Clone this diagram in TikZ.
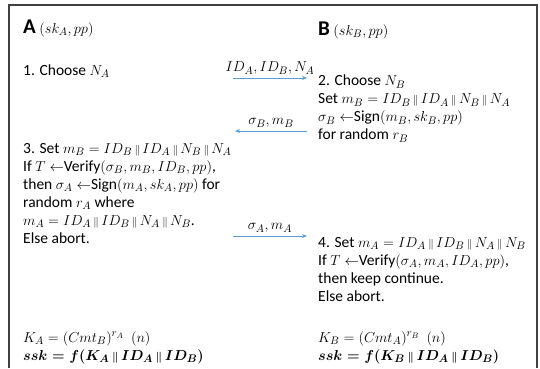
\documentclass[tikz,border=0pt]{standalone}
\usepackage{amsmath}
\usepackage{fontspec}
\setmainfont{Carlito}
\usepackage{tikz}
\usetikzlibrary{arrows.meta}

\newcommand{\cat}{\mkern3mu{\scriptstyle\|}\mkern3mu}

\begin{document}
\begin{tikzpicture}[x=1pt,y=1pt,yscale=-1,xscale=1,
  txt/.style={anchor=base west, inner sep=0pt, font=\fontsize{15.5}{18}\selectfont},
  blk/.style={anchor=north west, inner sep=0pt, align=left, font=\fontsize{15.5}{18}\selectfont},
  msg/.style={myblue, line width=0.9pt, -{Stealth[length=5pt,width=4pt]}},
  msglbl/.style={anchor=south, inner xsep=0pt, inner ysep=3pt, black, font=\fontsize{15.5}{18}\selectfont}]

\definecolor{myblue}{RGB}{91,155,213}
\definecolor{framegray}{RGB}{64,64,64}

\useasboundingbox (0,0) rectangle (540,368);
\draw[framegray, line width=1.5pt] (9,368) -- (9,5) -- (537,5) -- (537,368);

% parties
\node[txt] (partyA) at (23,33) {{\fontsize{21}{24}\selectfont\bfseries A} $(sk_A, pp)$};
\node[txt] (partyB) at (318,35) {{\fontsize{21}{24}\selectfont\bfseries B} $(sk_B, pp)$};

% steps
\node[txt] (step1) at (23,75) {1. Choose $N_A$};

\node[blk] (step2) at (318,75) {2. Choose $N_B$\\
Set $m_B = ID_B \cat ID_A \cat N_B \cat N_A$\\
$\sigma_B \leftarrow$Sign$(m_B, sk_B, pp)$\\
for random $r_B$};

\node[blk] (step3) at (23,143) {3. Set $m_B = ID_B \cat ID_A \cat N_B \cat N_A$\\
If $T \leftarrow$Verify$(\sigma_B, m_B, ID_B, pp)$,\\
then $\sigma_A \leftarrow$Sign$(m_A, sk_A, pp)$ for\\
random $r_A$ where\\
$m_A = ID_A \cat ID_B \cat N_A \cat N_B$.\\
Else abort.};

\node[blk] (step4) at (318,237) {4. Set $m_A = ID_A \cat ID_B \cat N_A \cat N_B$\\
If $T \leftarrow$Verify$(\sigma_A, m_A, ID_A, pp)$,\\
then keep continue.\\
Else abort.};

% session keys
\node[txt] (keyA) at (23,342) {$K_A = (Cmt_B)^{r_A}\ \ (n)$};
\node[txt] (sskA) at (23,360) {$\boldsymbol{ssk = f(K_A \cat ID_A \cat ID_B)}$};
\node[txt] (keyB) at (318,342) {$K_B = (Cmt_A)^{r_B}\ \ (n)$};
\node[txt] (sskB) at (318,360) {$\boldsymbol{ssk = f(K_B \cat ID_A \cat ID_B)}$};

% messages
\coordinate (m1a) at (233,78);
\coordinate (m1b) at (307,78);
\coordinate (m2a) at (307,131);
\coordinate (m2b) at (235,131);
\coordinate (m3a) at (233,236);
\coordinate (m3b) at (307,236);

\draw[msg] (m1a) -- node[msglbl] (msg1) {$ID_A, ID_B, N_A$} (m1b);
\draw[msg] (m2a) -- node[msglbl] (msg2) {$\sigma_B, m_B$} (m2b);
\draw[msg] (m3a) -- node[msglbl] (msg3) {$\sigma_A, m_A$} (m3b);

\end{tikzpicture}
\end{document}
